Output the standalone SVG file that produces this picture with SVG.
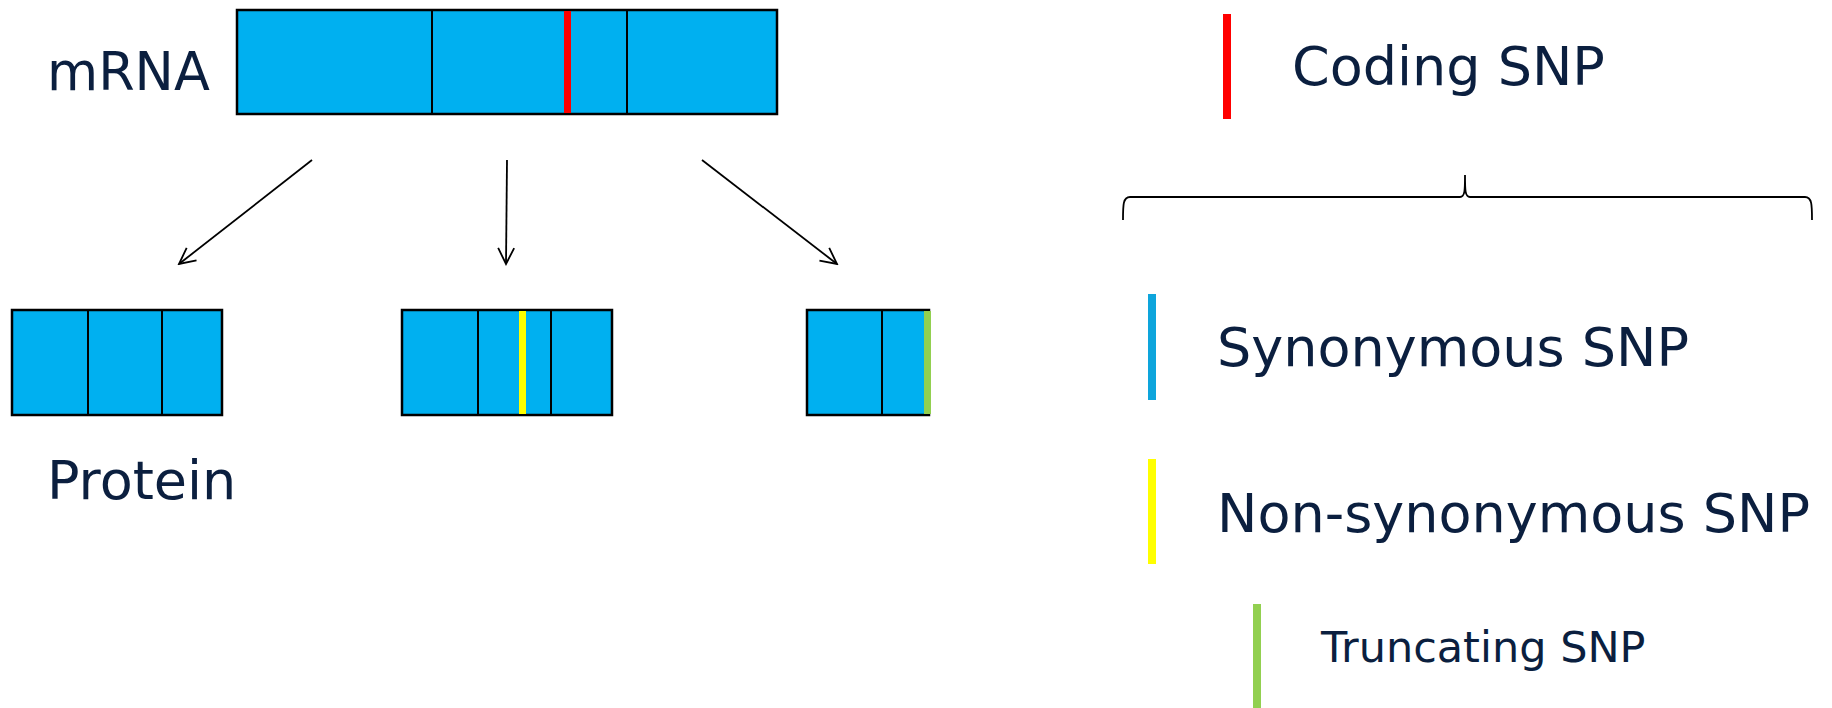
<svg xmlns="http://www.w3.org/2000/svg" width="1832" height="708" viewBox="0 0 1832 708">
<defs>
<style>
.box{fill:#00b0f0;stroke:#000;stroke-width:2.5}
.div{stroke:#000;stroke-width:2}
.lbl{font-family:"DejaVu Sans",Verdana,sans-serif;fill:#0b1f3f}
.big{font-size:54px}
.small{font-size:43px}
.conn{stroke:#000;stroke-width:1.8;fill:none;marker-end:url(#arr)}
</style>
<marker id="arr" viewBox="0 0 20 20" refX="18" refY="10" markerWidth="20" markerHeight="20" markerUnits="userSpaceOnUse" orient="auto">
<path d="M2,2 L18,10 L2,18" fill="none" stroke="#000" stroke-width="1.8"/>
</marker>
</defs>
<rect width="1832" height="708" fill="#fff"/>
<g id="mrna">
<text class="lbl" x="47" y="90" font-size="52.5">mRNA</text>
<rect class="box" x="237" y="10" width="540" height="104"/>
<line class="div" x1="432" y1="10" x2="432" y2="114"/>
<line class="div" x1="627" y1="10" x2="627" y2="114"/>
<rect x="564" y="11" width="7" height="102" fill="#ff0000"/>
</g>
<g id="connectors">
<line class="conn" x1="312" y1="160" x2="179" y2="264"/>
<line class="conn" x1="507" y1="160" x2="506" y2="264"/>
<line class="conn" x1="702" y1="160" x2="837" y2="264"/>
</g>
<g id="protein1">
<rect class="box" x="12" y="310" width="210" height="105"/>
<line class="div" x1="88" y1="310" x2="88" y2="415"/>
<line class="div" x1="162" y1="310" x2="162" y2="415"/>
<text class="lbl big" x="47" y="499">Protein</text>
</g>
<g id="protein2">
<rect class="box" x="402" y="310" width="210" height="105"/>
<line class="div" x1="478" y1="310" x2="478" y2="415"/>
<line class="div" x1="551" y1="310" x2="551" y2="415"/>
<rect x="519" y="311" width="7" height="103" fill="#ffff00"/>
</g>
<g id="protein3">
<rect class="box" x="807" y="310" width="122" height="105"/>
<line class="div" x1="882" y1="310" x2="882" y2="415"/>
<rect x="924" y="311" width="7" height="103" fill="#92d050"/>
</g>
<g id="legend-coding">
<rect x="1223" y="14" width="8" height="105" fill="#ff0000"/>
<text class="lbl big" x="1292" y="85">Coding SNP</text>
</g>
<g id="brace">
<path d="M1123,220 C1123,205 1123,197 1130,197 L1460,197 C1465,197 1465,190 1465,175 C1465,190 1465,197 1470,197 L1805,197 C1812,197 1812,205 1812,220" fill="none" stroke="#000" stroke-width="1.8"/>
</g>
<g id="legend-syn">
<rect x="1148" y="294" width="8" height="106" fill="#0ea5dc"/>
<text class="lbl big" x="1217" y="366">Synonymous SNP</text>
</g>
<g id="legend-nonsyn">
<rect x="1148" y="459" width="8" height="105" fill="#ffff00"/>
<text class="lbl big" x="1217" y="532">Non-synonymous SNP</text>
</g>
<g id="legend-trunc">
<rect x="1253" y="604" width="8" height="104" fill="#92d050"/>
<text class="lbl small" x="1321" y="662">Truncating SNP</text>
</g>
</svg>
